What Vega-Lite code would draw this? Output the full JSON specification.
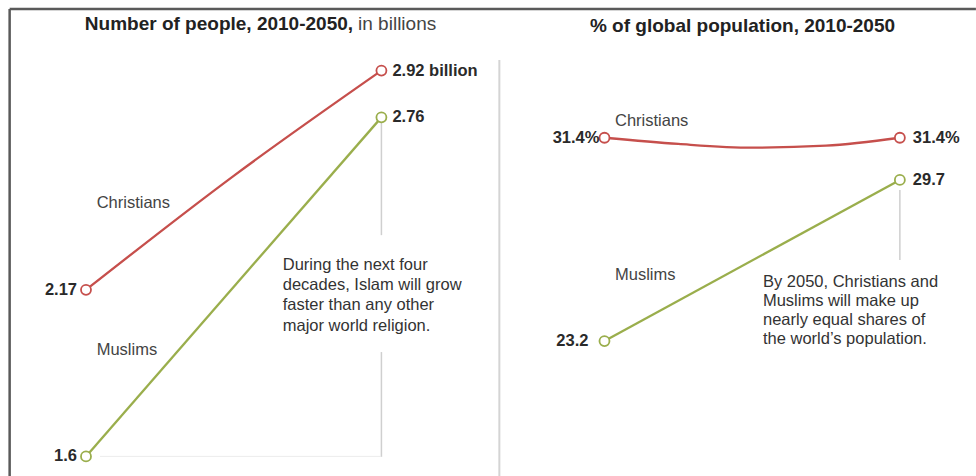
{
  "$schema": "https://vega.github.io/schema/vega-lite/v6.json",
  "autosize": {"type": "none"},
  "padding": 0,
  "width": 976,
  "height": 476,
  "background": "white",
  "config": {
    "view": {"stroke": null},
    "font": "Liberation Sans",
    "text": {"font": "Liberation Sans"}
  },
  "datasets": {
    "people": [
      {"religion": "Christians", "year": 2010, "value": 2.17},
      {"religion": "Christians", "year": 2030, "value": 2.56},
      {"religion": "Christians", "year": 2050, "value": 2.92},
      {"religion": "Muslims", "year": 2010, "value": 1.6},
      {"religion": "Muslims", "year": 2050, "value": 2.76}
    ],
    "share": [
      {"religion": "Christians", "year": 2010, "value": 31.4},
      {"religion": "Christians", "year": 2020, "value": 31.15},
      {"religion": "Christians", "year": 2030, "value": 31.0},
      {"religion": "Christians", "year": 2040, "value": 31.08},
      {"religion": "Christians", "year": 2050, "value": 31.4},
      {"religion": "Muslims", "year": 2010, "value": 23.2},
      {"religion": "Muslims", "year": 2050, "value": 29.7}
    ],
    "texts": [
      {"panel": "left", "role": "title-bold", "text": "Number of people, 2010-2050,", "year": 2046.16, "value": 3.08},
      {"panel": "left", "role": "title-normal", "text": "in billions", "year": 2046.16, "value": 3.08},
      {"panel": "left", "role": "end", "text": "2.92 billion", "year": 2050, "value": 2.92},
      {"panel": "left", "role": "end", "text": "2.76", "year": 2050, "value": 2.76},
      {"panel": "left", "role": "start", "text": "2.17", "year": 2010, "value": 2.17},
      {"panel": "left", "role": "start", "text": "1.6", "year": 2010, "value": 1.6},
      {"panel": "left", "role": "series", "text": "Christians", "year": 2011.44, "value": 2.468},
      {"panel": "left", "role": "series", "text": "Muslims", "year": 2011.44, "value": 1.964},
      {"panel": "left", "role": "note", "text": "During the next four|decades, Islam will grow|faster than any other|major world religion.", "year": 2036.64, "value": 2.255},
      {"panel": "right", "role": "title-bold", "text": "% of global population, 2010-2050", "year": 2028.69, "value": 35.92},
      {"panel": "right", "role": "end", "text": "31.4%", "year": 2050, "value": 31.4},
      {"panel": "right", "role": "end", "text": "29.7", "year": 2050, "value": 29.7},
      {"panel": "right", "role": "start", "text": "31.4%", "year": 2010, "value": 31.4},
      {"panel": "right", "role": "start-pad", "text": "23.2", "year": 2010, "value": 23.2},
      {"panel": "right", "role": "series", "text": "Christians", "year": 2011.42, "value": 32.06},
      {"panel": "right", "role": "series", "text": "Muslims", "year": 2011.42, "value": 25.865},
      {"panel": "right", "role": "note", "text": "By 2050, Christians and|Muslims will make up|nearly equal shares of|the world\u2019s population.", "year": 2031.46, "value": 25.58}
    ],
    "rules": [
      {"panel": "left", "role": "frame", "year": 1999.66, "year2": 1999.66, "value": 3.131, "value2": 1.533},
      {"panel": "left", "role": "frame", "year": 1999.66, "year2": 2130.5, "value": 3.131, "value2": 3.131},
      {"panel": "left", "role": "divider", "year": 2065.97, "year2": 2065.97, "value": 2.956, "value2": 1.533},
      {"panel": "left", "role": "guide", "year": 2050, "year2": 2050, "value": 2.741, "value2": 2.357},
      {"panel": "left", "role": "guide", "year": 2050, "year2": 2050, "value": 1.957, "value2": 1.598},
      {"panel": "left", "role": "base", "year": 2011.9, "year2": 2050, "value": 1.6, "value2": 1.6},
      {"panel": "right", "role": "guide", "year": 2050, "year2": 2050, "value": 29.29, "value2": 26.47}
    ]
  },
  "resolve": {"scale": {"x": "independent", "y": "independent"}},
  "layer": [
    {
      "encoding": {
        "x": {"field": "year", "type": "quantitative", "scale": {"domain": [1998.355, 2130.51], "nice": false, "zero": false}, "axis": null},
        "y": {"field": "value", "type": "quantitative", "scale": {"domain": [1.5329, 3.1616], "nice": false, "zero": false}, "axis": null}
      },
      "layer": [
        {
          "data": {"name": "rules"},
          "transform": [{"filter": "datum.panel == 'left' && datum.role == 'frame'"}],
          "mark": {"type": "rule", "stroke": "#5a5a5a", "strokeWidth": 2.5},
          "encoding": {"x2": {"field": "year2"}, "y2": {"field": "value2"}}
        },
        {
          "data": {"name": "rules"},
          "transform": [{"filter": "datum.panel == 'left' && datum.role == 'divider'"}],
          "mark": {"type": "rule", "stroke": "#d4d4d4", "strokeWidth": 2},
          "encoding": {"x2": {"field": "year2"}, "y2": {"field": "value2"}}
        },
        {
          "data": {"name": "rules"},
          "transform": [{"filter": "datum.panel == 'left' && datum.role == 'guide'"}],
          "mark": {"type": "rule", "stroke": "#cfcfcf", "strokeWidth": 1.5},
          "encoding": {"x2": {"field": "year2"}, "y2": {"field": "value2"}}
        },
        {
          "data": {"name": "rules"},
          "transform": [{"filter": "datum.panel == 'left' && datum.role == 'base'"}],
          "mark": {"type": "rule", "stroke": "#ececec", "strokeWidth": 1},
          "encoding": {"x2": {"field": "year2"}, "y2": {"field": "value2"}}
        },
        {
          "data": {"name": "people"},
          "mark": {"type": "line", "interpolate": "monotone", "strokeWidth": 2.3},
          "encoding": {
            "color": {"field": "religion", "type": "nominal", "scale": {"domain": ["Christians", "Muslims"], "range": ["#c64f4c", "#9aae4c"]}, "legend": null}
          }
        },
        {
          "data": {"name": "people"},
          "transform": [{"filter": "datum.year == 2010 || datum.year == 2050"}],
          "mark": {"type": "point", "shape": "circle", "fill": "white", "filled": true, "size": 100, "strokeWidth": 1.8, "opacity": 1},
          "encoding": {
            "stroke": {"field": "religion", "type": "nominal", "scale": {"domain": ["Christians", "Muslims"], "range": ["#c64f4c", "#9aae4c"]}, "legend": null}
          }
        },
        {
          "data": {"name": "texts"},
          "transform": [{"filter": "datum.panel == 'left' && datum.role == 'title-bold'"}],
          "mark": {"type": "text", "align": "right", "baseline": "middle", "fontSize": 19, "fontWeight": "bold", "color": "#222"},
          "encoding": {"text": {"field": "text"}}
        },
        {
          "data": {"name": "texts"},
          "transform": [{"filter": "datum.panel == 'left' && datum.role == 'title-normal'"}],
          "mark": {"type": "text", "align": "left", "baseline": "middle", "dx": 5, "fontSize": 19, "color": "#444"},
          "encoding": {"text": {"field": "text"}}
        },
        {
          "data": {"name": "texts"},
          "transform": [{"filter": "datum.panel == 'left' && datum.role == 'end'"}],
          "mark": {"type": "text", "align": "left", "baseline": "middle", "dx": 11, "fontSize": 16.5, "fontWeight": "bold", "color": "#2a2a2a"},
          "encoding": {"text": {"field": "text"}}
        },
        {
          "data": {"name": "texts"},
          "transform": [{"filter": "datum.panel == 'left' && datum.role == 'start'"}],
          "mark": {"type": "text", "align": "right", "baseline": "middle", "dx": -9, "fontSize": 16.5, "fontWeight": "bold", "color": "#2a2a2a"},
          "encoding": {"text": {"field": "text"}}
        },
        {
          "data": {"name": "texts"},
          "transform": [{"filter": "datum.panel == 'left' && datum.role == 'series'"}],
          "mark": {"type": "text", "align": "left", "baseline": "middle", "fontSize": 16.5, "color": "#444"},
          "encoding": {"text": {"field": "text"}}
        },
        {
          "data": {"name": "texts"},
          "transform": [{"filter": "datum.panel == 'left' && datum.role == 'note'"}],
          "mark": {"type": "text", "align": "left", "baseline": "middle", "lineBreak": "|", "lineHeight": 20.2, "fontSize": 16.5, "color": "#333"},
          "encoding": {"text": {"field": "text"}}
        }
      ]
    },
    {
      "encoding": {
        "x": {"field": "year", "type": "quantitative", "scale": {"domain": [1928.145, 2060.31], "nice": false, "zero": false}, "axis": null},
        "y": {"field": "value", "type": "quantitative", "scale": {"domain": [17.759, 36.956], "nice": false, "zero": false}, "axis": null}
      },
      "layer": [
        {
          "data": {"name": "rules"},
          "transform": [{"filter": "datum.panel == 'right' && datum.role == 'guide'"}],
          "mark": {"type": "rule", "stroke": "#cfcfcf", "strokeWidth": 1.5},
          "encoding": {"x2": {"field": "year2"}, "y2": {"field": "value2"}}
        },
        {
          "data": {"name": "share"},
          "mark": {"type": "line", "interpolate": "monotone", "strokeWidth": 2.3},
          "encoding": {
            "color": {"field": "religion", "type": "nominal", "scale": {"domain": ["Christians", "Muslims"], "range": ["#c64f4c", "#9aae4c"]}, "legend": null}
          }
        },
        {
          "data": {"name": "share"},
          "transform": [{"filter": "datum.year == 2010 || datum.year == 2050"}],
          "mark": {"type": "point", "shape": "circle", "fill": "white", "filled": true, "size": 100, "strokeWidth": 1.8, "opacity": 1},
          "encoding": {
            "stroke": {"field": "religion", "type": "nominal", "scale": {"domain": ["Christians", "Muslims"], "range": ["#c64f4c", "#9aae4c"]}, "legend": null}
          }
        },
        {
          "data": {"name": "texts"},
          "transform": [{"filter": "datum.panel == 'right' && datum.role == 'title-bold'"}],
          "mark": {"type": "text", "align": "center", "baseline": "middle", "fontSize": 19, "fontWeight": "bold", "color": "#222"},
          "encoding": {"text": {"field": "text"}}
        },
        {
          "data": {"name": "texts"},
          "transform": [{"filter": "datum.panel == 'right' && datum.role == 'end'"}],
          "mark": {"type": "text", "align": "left", "baseline": "middle", "dx": 13, "fontSize": 16.5, "fontWeight": "bold", "color": "#2a2a2a"},
          "encoding": {"text": {"field": "text"}}
        },
        {
          "data": {"name": "texts"},
          "transform": [{"filter": "datum.panel == 'right' && datum.role == 'start'"}],
          "mark": {"type": "text", "align": "right", "baseline": "middle", "dx": -5, "fontSize": 16.5, "fontWeight": "bold", "color": "#2a2a2a"},
          "encoding": {"text": {"field": "text"}}
        },
        {
          "data": {"name": "texts"},
          "transform": [{"filter": "datum.panel == 'right' && datum.role == 'start-pad'"}],
          "mark": {"type": "text", "align": "right", "baseline": "middle", "dx": -16, "fontSize": 16.5, "fontWeight": "bold", "color": "#2a2a2a"},
          "encoding": {"text": {"field": "text"}}
        },
        {
          "data": {"name": "texts"},
          "transform": [{"filter": "datum.panel == 'right' && datum.role == 'series'"}],
          "mark": {"type": "text", "align": "left", "baseline": "middle", "fontSize": 16.5, "color": "#444"},
          "encoding": {"text": {"field": "text"}}
        },
        {
          "data": {"name": "texts"},
          "transform": [{"filter": "datum.panel == 'right' && datum.role == 'note'"}],
          "mark": {"type": "text", "align": "left", "baseline": "middle", "lineBreak": "|", "lineHeight": 19, "fontSize": 16.5, "color": "#333"},
          "encoding": {"text": {"field": "text"}}
        }
      ]
    }
  ]
}
